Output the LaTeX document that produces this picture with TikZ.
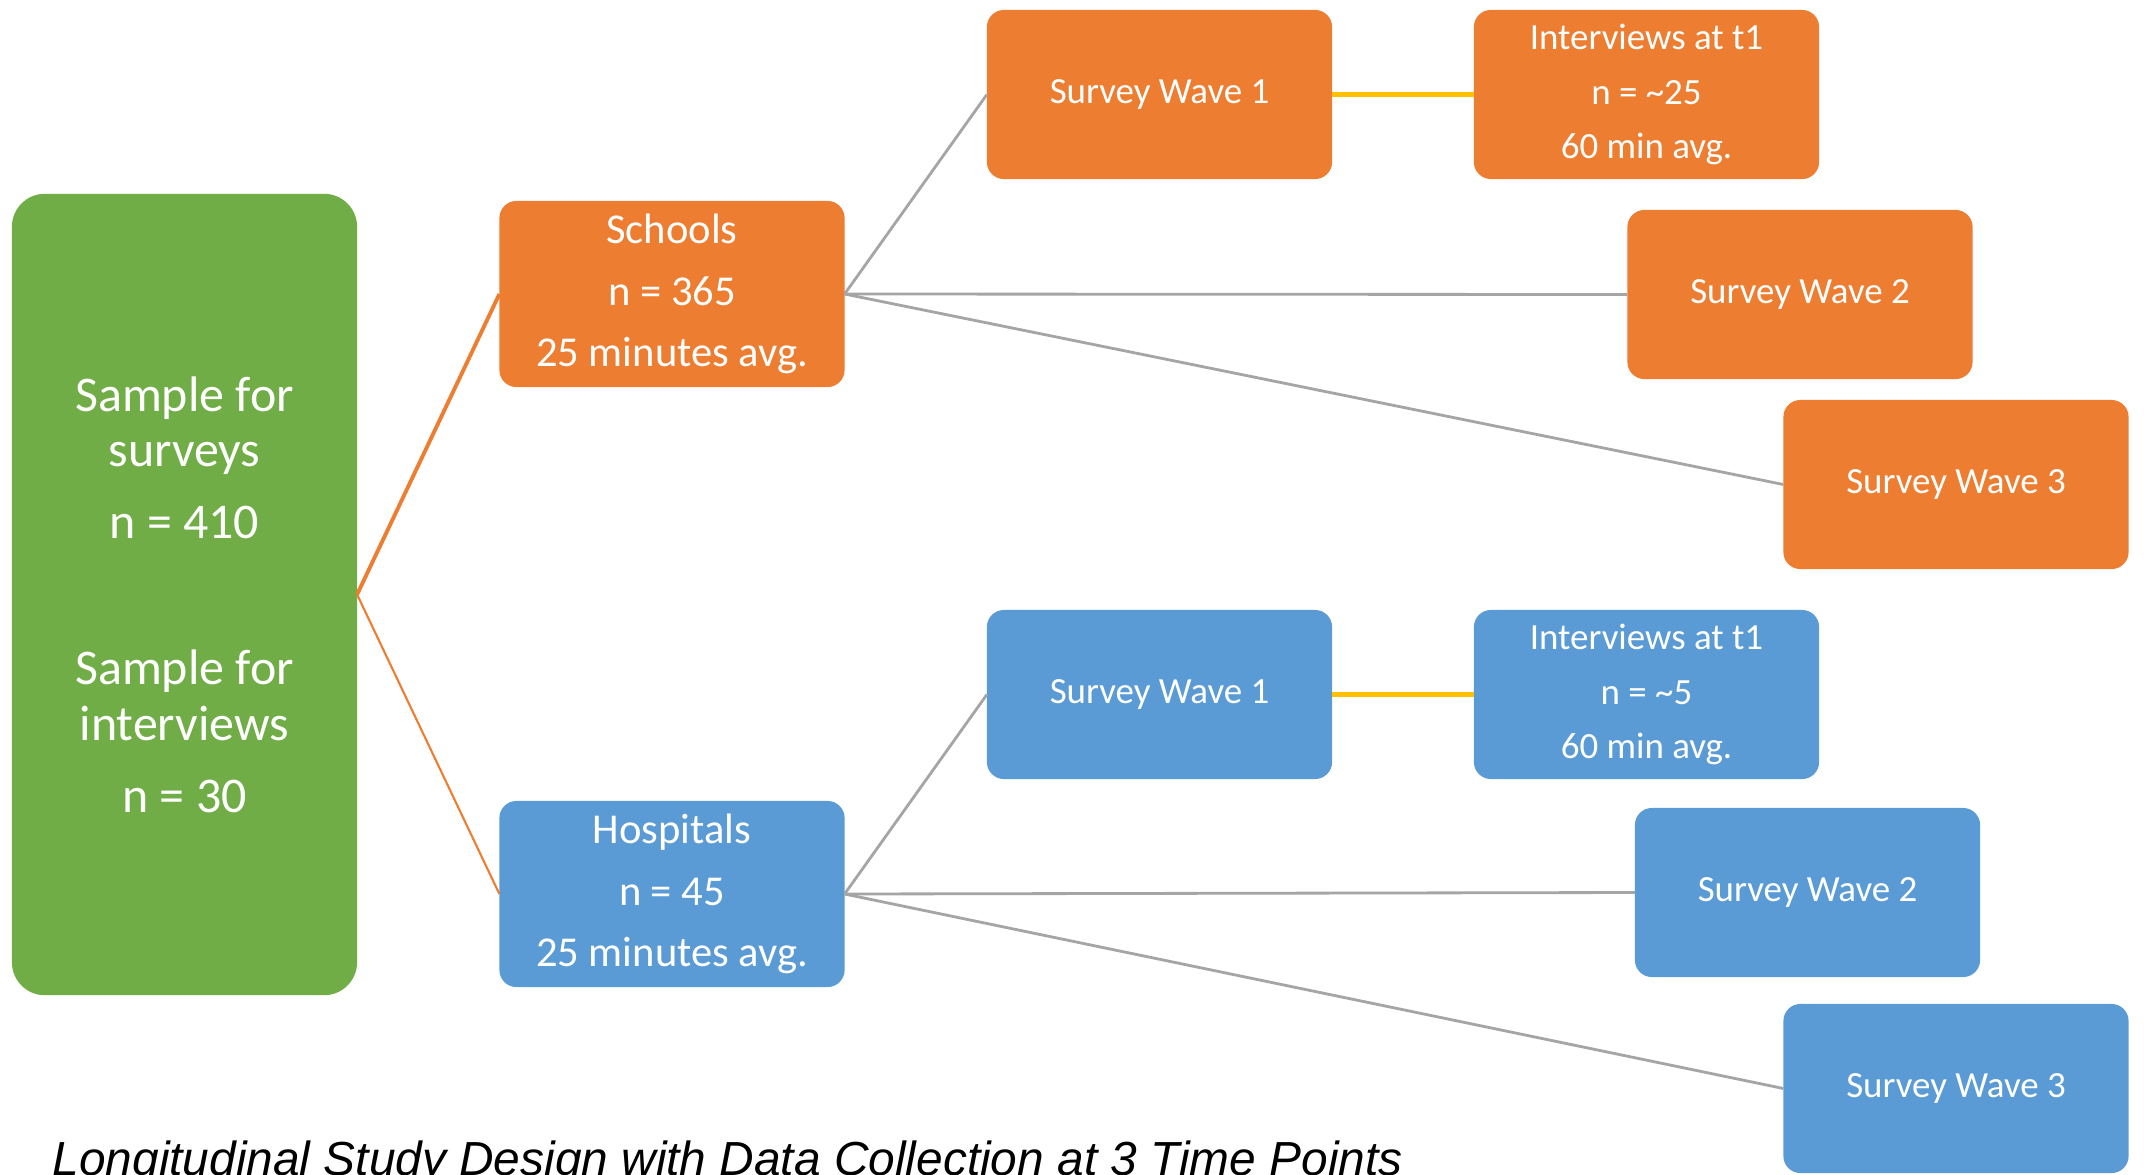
\documentclass[tikz,border=0pt]{standalone}
\usepackage{fontspec}
\setmainfont{Carlito}
\newfontfamily\capfont{Liberation Sans}
\definecolor{boxorange}{HTML}{ED7D31}
\definecolor{boxblue}{HTML}{5B9BD5}
\definecolor{boxgreen}{HTML}{70AD47}
\definecolor{linkgray}{HTML}{A5A5A5}
\definecolor{linkyellow}{HTML}{FFC000}
\begin{document}
\begin{tikzpicture}[x=0.01cm, y=-0.01cm,
    box/.style={rounded corners=0.17cm, inner sep=0pt, outer sep=0pt, text=white, align=center,
        minimum width=3.45cm, minimum height=1.69cm, font={\fontsize{10.5}{15.6}\selectfont}},
    sitebox/.style={box, minimum height=1.86cm, font={\fontsize{12.1}{17.5}\selectfont}},
    samplebox/.style={box, fill=boxgreen, rounded corners=0.33cm, minimum height=8.01cm,
        font={\fontsize{14.2}{15.9}\selectfont}},
    orangebox/.style={fill=boxorange},
    bluebox/.style={fill=boxblue},
    grayline/.style={draw=linkgray, line width=0.8pt},
    yellowline/.style={draw=linkyellow, line width=1.4pt}]
    \path[use as bounding box, clip] (0, 0) rectangle (2144, 1175);
    % sample
    \node[samplebox] (sample) at (184.5, 594.5) {Sample for\\surveys\\[4.5pt]n = 410\\[25.6pt]Sample for\\interviews\\[4.5pt]n = 30};
    % schools branch
    \node[sitebox, orangebox] (si) at (672, 294) {Schools\\n = 365\\25 minutes avg.};
    \node[box, orangebox] (s1) at (1159.5, 94.5) {Survey Wave 1};
    \node[box, orangebox] (sint) at (1646.5, 94.5) {Interviews at t1\\n = \textasciitilde25\\60 min avg.};
    \node[box, orangebox] (s2) at (1800, 294.5) {Survey Wave 2};
    \node[box, orangebox] (s3) at (1956, 484.5) {Survey Wave 3};
    % hospitals branch
    \node[sitebox, bluebox] (hi) at (672, 894) {Hospitals\\n = 45\\25 minutes avg.};
    \node[box, bluebox] (h1) at (1159.5, 694.5) {Survey Wave 1};
    \node[box, bluebox] (hint) at (1646.5, 694.5) {Interviews at t1\\n = \textasciitilde5\\60 min avg.};
    \node[box, bluebox] (h2) at (1807.5, 892.5) {Survey Wave 2};
    \node[box, bluebox] (h3) at (1956, 1088.5) {Survey Wave 3};
    % links
    \draw[boxorange, line width=1.1pt] (sample.east) -- (si.west);
    \draw[boxorange, line width=0.6pt] (sample.east) -- (hi.west);
    \draw[grayline] (si.east) -- (s1.west);
    \draw[grayline] (si.east) -- (s2.west);
    \draw[grayline] (si.east) -- (s3.west);
    \draw[grayline] (hi.east) -- (h1.west);
    \draw[grayline] (hi.east) -- (h2.west);
    \draw[grayline] (hi.east) -- (h3.west);
    \draw[yellowline] (s1.east) -- (sint.west);
    \draw[yellowline] (h1.east) -- (hint.west);
    % caption
    \node[anchor=base west, inner sep=0pt, font={\capfont\itshape\fontsize{13.6}{16}\selectfont}] (caption) at (52, 1175)
        {Longitudinal Study Design with Data Collection at 3 Time Points};
\end{tikzpicture}
\end{document}
